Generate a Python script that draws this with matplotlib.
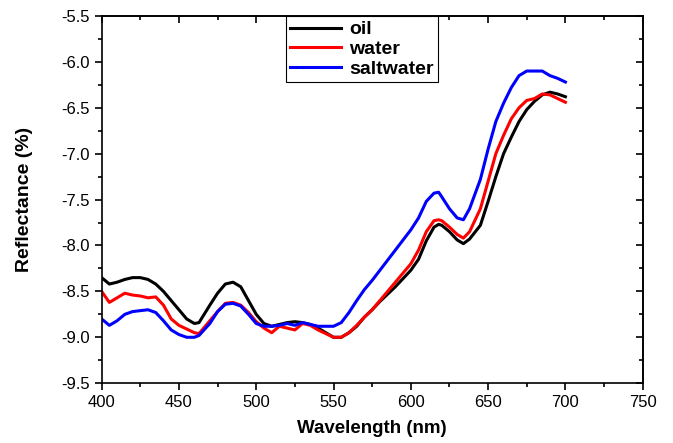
import matplotlib
matplotlib.use("Agg")
import matplotlib.pyplot as plt

plt.rcParams["font.family"] = ["Liberation Sans", "DejaVu Sans"]

wl = [400, 405, 410, 415, 420, 425, 430, 435, 440, 445, 450, 455, 460, 463,
      470, 475, 480, 485, 490, 495, 500, 505, 510, 515, 520, 525, 530, 535,
      540, 545, 550, 555, 560, 565, 570, 575, 580, 590, 600, 605, 610, 615,
      618, 620, 625, 630, 634, 638, 645, 650, 655, 660, 665, 670, 675, 680,
      685, 690, 695, 700]

oil = [-8.35, -8.42, -8.40, -8.37, -8.35, -8.35, -8.37, -8.42, -8.50, -8.60,
       -8.70, -8.80, -8.85, -8.84, -8.65, -8.52, -8.42, -8.40, -8.45, -8.60,
       -8.75, -8.85, -8.88, -8.86, -8.84, -8.83, -8.84, -8.86, -8.90, -8.95,
       -9.00, -9.00, -8.95, -8.88, -8.78, -8.70, -8.61, -8.45, -8.27, -8.15,
       -7.95, -7.80, -7.77, -7.78, -7.85, -7.94, -7.98, -7.93, -7.78, -7.52,
       -7.25, -7.00, -6.82, -6.65, -6.52, -6.43, -6.36, -6.33, -6.35, -6.38]

water = [-8.50, -8.62, -8.57, -8.52, -8.54, -8.55, -8.57, -8.56, -8.65, -8.80,
         -8.87, -8.91, -8.95, -8.96, -8.82, -8.72, -8.63, -8.62, -8.65, -8.73,
         -8.83, -8.90, -8.95, -8.88, -8.90, -8.92, -8.85, -8.87, -8.92, -8.96,
         -9.00, -9.00, -8.95, -8.87, -8.78, -8.70, -8.60, -8.40, -8.20, -8.05,
         -7.85, -7.73, -7.72, -7.73, -7.80, -7.88, -7.92, -7.85, -7.60, -7.30,
         -7.00, -6.80, -6.62, -6.50, -6.42, -6.40, -6.35, -6.36, -6.40, -6.44]

saltwater = [-8.80, -8.87, -8.82, -8.75, -8.72, -8.71, -8.70, -8.73, -8.82, -8.92,
             -8.97, -9.00, -9.00, -8.98, -8.85, -8.72, -8.64, -8.63, -8.66, -8.75,
             -8.85, -8.88, -8.88, -8.87, -8.85, -8.87, -8.84, -8.86, -8.88, -8.88,
             -8.88, -8.84, -8.73, -8.60, -8.48, -8.38, -8.27, -8.05, -7.83, -7.70,
             -7.52, -7.43, -7.42, -7.47, -7.60, -7.70, -7.72, -7.60, -7.28, -6.95,
             -6.65, -6.45, -6.28, -6.15, -6.10, -6.10, -6.10, -6.15, -6.18, -6.22]

fig = plt.figure(figsize=(6.73, 4.43), dpi=100)
ax = fig.add_axes([0.151, 0.135, 0.804, 0.829])

ax.plot(wl, oil, color="black", lw=2.2, label="oil")
ax.plot(wl, water, color="red", lw=2.2, label="water")
ax.plot(wl, saltwater, color="blue", lw=2.2, label="saltwater")

xmaj = list(range(400, 751, 50))
xmin = list(range(425, 751, 50))
ymaj = [-9.5 + 0.5 * i for i in range(9)]
ymin = [-9.25 + 0.5 * i for i in range(8)]

ax.set_xlim(400, 750)
ax.set_ylim(-9.5, -5.5)
ax.set_xticks(xmaj)
ax.set_xticks(xmin, minor=True)
ax.set_yticks(ymaj)
ax.set_yticks(ymin, minor=True)
ax.yaxis.set_major_formatter(plt.FormatStrFormatter("%.1f"))
ax.tick_params(which="major", direction="out", length=5, width=1.2, labelsize=12)
ax.tick_params(which="minor", direction="out", length=3, width=1.2)

# mirrored ticks pointing inward on top and right
top = ax.secondary_xaxis("top")
top.set_xticks(xmaj)
top.set_xticks(xmin, minor=True)
top.tick_params(which="major", direction="in", length=5, width=1.2, labeltop=False)
top.tick_params(which="minor", direction="in", length=3, width=1.2)
right = ax.secondary_yaxis("right")
right.set_yticks(ymaj)
right.set_yticks(ymin, minor=True)
right.tick_params(which="major", direction="in", length=5, width=1.2, labelright=False)
right.tick_params(which="minor", direction="in", length=3, width=1.2)

for s in ax.spines.values():
    s.set_linewidth(1.2)
top.spines["top"].set_linewidth(1.2)
right.spines["right"].set_linewidth(1.2)

ax.set_xlabel("Wavelength (nm)", fontsize=13.5, fontweight="bold", labelpad=7)
ax.set_ylabel("Reflectance (%)", fontsize=14, fontweight="bold", labelpad=20)

leg = ax.legend(loc="upper left", bbox_to_anchor=(0.34, 1.0), borderaxespad=0,
                prop={"weight": "bold", "size": 14}, handlelength=2.6,
                fancybox=False, framealpha=1, edgecolor="black",
                borderpad=0.25, labelspacing=0.1, handletextpad=0.4)
leg.get_frame().set_linewidth(0.8)

fig.savefig("out.png", dpi=100)
